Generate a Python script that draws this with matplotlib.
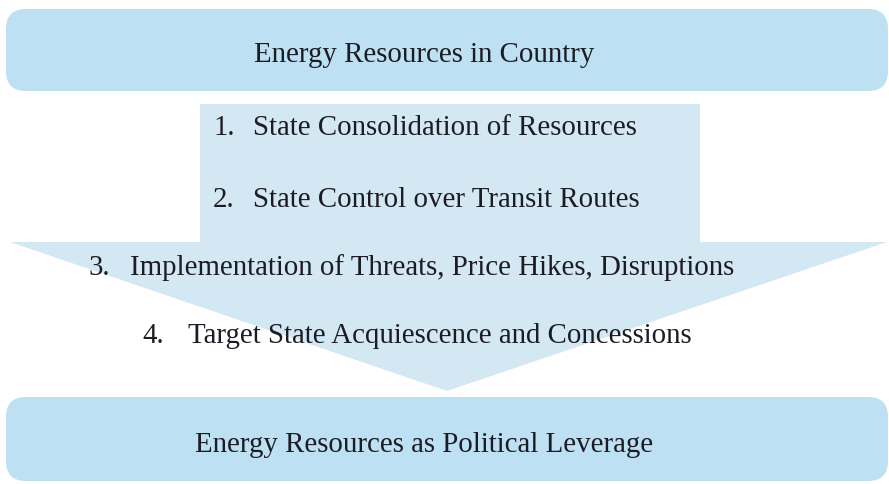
import matplotlib.pyplot as plt
from matplotlib.patches import FancyBboxPatch, Polygon

top_label = "Energy Resources in Country"
bottom_label = "Energy Resources as Political Leverage"
step_nums = ["1.", "2.", "3.", "4."]
step_texts = ["State Consolidation of Resources",
              "State Control over Transit Routes",
              "Implementation of Threats, Price Hikes, Disruptions",
              "Target State Acquiescence and Concessions"]

box_color = "#bde0f2"
arrow_color = "#d4e8f4"
text_color = "#1c1c24"
fs = 20.8

plt.rcParams['font.family'] = ['Liberation Serif', 'DejaVu Serif']

fig = plt.figure(figsize=(8.89, 4.85), dpi=100)
ax = fig.add_axes([0, 0, 1, 1])
ax.set_xlim(0, 889)
ax.set_ylim(485, 0)
ax.axis('off')

# big arrow down the middle
arrow = Polygon([(200, 105), (700, 105), (700, 243), (887, 243),
                 (447, 392), (10, 243), (200, 243)],
                closed=True, facecolor=arrow_color, edgecolor='none')
ax.add_patch(arrow)

# top and bottom boxes
for y0, y1, base, label in [(10, 92, 62, top_label), (398, 482, 452, bottom_label)]:
    box = FancyBboxPatch((6, y0), 882, y1 - y0,
                         boxstyle="round,pad=0,rounding_size=20",
                         facecolor=box_color, edgecolor='none')
    ax.add_patch(box)
    ax.text(424, base, label, ha='center', va='baseline',
            fontsize=fs, color=text_color)

# numbered steps
num_x = [213, 213, 88, 142]
txt_x = [253, 253, 130, 188]
ys = [135, 207, 275, 343]
for n, t, nx, tx, y in zip(step_nums, step_texts, num_x, txt_x, ys):
    ax.text(nx, y, n, ha='left', va='baseline', fontsize=fs, color=text_color)
    ax.text(tx, y, t, ha='left', va='baseline', fontsize=fs, color=text_color)

plt.savefig("out.png", dpi=100)
